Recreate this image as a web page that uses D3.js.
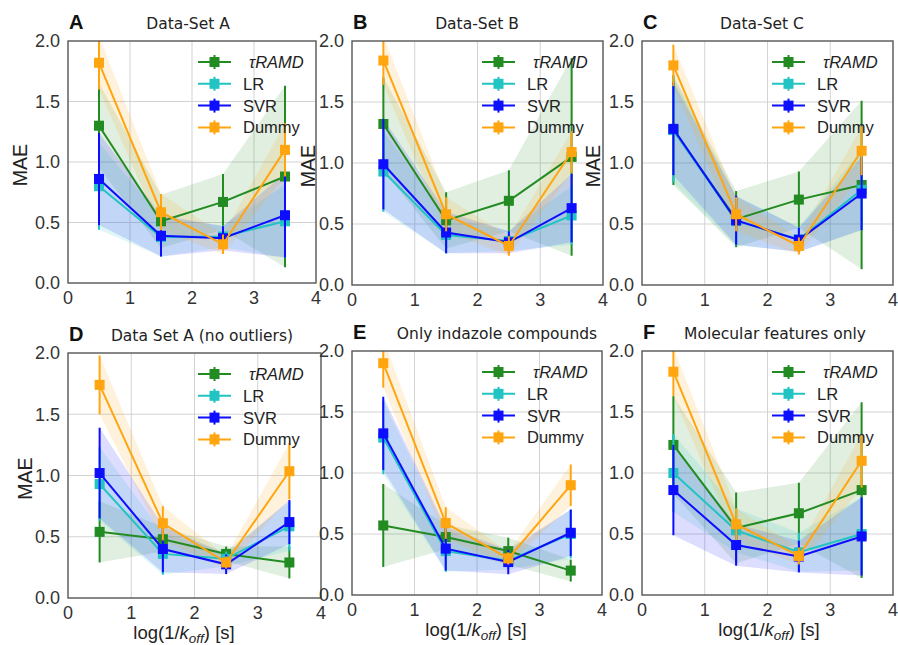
<!DOCTYPE html>
<html>
<head>
<meta charset="utf-8">
<script src="https://cdn.jsdelivr.net/npm/d3@7"></script>
<style>
  html, body { margin: 0; padding: 0; background: #fff; }
  svg { display: block; }
</style>
</head>
<body>
<svg id="fig" width="898" height="645"></svg>
<script>
// Bin centres on the log(1/koff) axis
const binCenters = [0.5, 1.5, 2.5, 3.5];
const seriesNames = ["τRAMD", "LR", "SVR", "Dummy"];
const seriesColors = ["#228b22", "#22c3c3", "#0d0dff", "#ffa50f"];
const xTicks = [0, 1, 2, 3, 4];
const yTicks = [0.0, 0.5, 1.0, 1.5, 2.0];

const panelLetters = ["A", "B", "C", "D", "E", "F"];
const panelTitles = ["Data-Set A", "Data-Set B", "Data-Set C",
  "Data Set A (no outliers)", "Only indazole compounds", "Molecular features only"];

// MAE per bin, rows: τRAMD, LR, SVR, Dummy
const maeA = [[1.30, 0.51, 0.67, 0.88], [0.80, 0.38, 0.385, 0.51], [0.86, 0.39, 0.37, 0.56], [1.82, 0.585, 0.32, 1.10]];
const errA = [[0.35, 0.22, 0.23, 0.75], [0.36, 0.16, 0.09, 0.30], [0.38, 0.17, 0.10, 0.35], [0.22, 0.15, 0.08, 0.22]];
const maeB = [[1.32, 0.53, 0.69, 1.05], [0.93, 0.41, 0.36, 0.57], [0.99, 0.43, 0.35, 0.63], [1.84, 0.58, 0.32, 1.09]];
const errB = [[0.38, 0.23, 0.25, 0.81], [0.33, 0.15, 0.08, 0.24], [0.37, 0.17, 0.09, 0.28], [0.20, 0.14, 0.08, 0.17]];
const maeC = [[1.27, 0.54, 0.70, 0.82], [1.27, 0.525, 0.375, 0.78], [1.28, 0.53, 0.37, 0.75], [1.80, 0.58, 0.32, 1.10]];
const errC = [[0.45, 0.23, 0.23, 0.69], [0.43, 0.20, 0.10, 0.33], [0.38, 0.20, 0.10, 0.30], [0.17, 0.14, 0.07, 0.20]];
const maeD = [[0.54, 0.48, 0.36, 0.29], [0.93, 0.36, 0.32, 0.585], [1.02, 0.40, 0.275, 0.62], [1.74, 0.61, 0.29, 1.035]];
const errD = [[0.25, 0.10, 0.06, 0.13], [0.30, 0.17, 0.06, 0.20], [0.37, 0.19, 0.08, 0.18], [0.24, 0.14, 0.05, 0.23]];
const maeE = [[0.57, 0.475, 0.36, 0.20], [1.29, 0.36, 0.28, 0.50], [1.325, 0.38, 0.27, 0.51], [1.90, 0.59, 0.30, 0.90]];
const errE = [[0.34, 0.10, 0.11, 0.09], [0.30, 0.17, 0.07, 0.20], [0.30, 0.18, 0.10, 0.19], [0.20, 0.13, 0.05, 0.17]];
const maeF = [[1.23, 0.55, 0.67, 0.86], [1.00, 0.53, 0.35, 0.50], [0.86, 0.41, 0.315, 0.48], [1.83, 0.58, 0.32, 1.10]];
const errF = [[0.40, 0.29, 0.25, 0.72], [0.32, 0.18, 0.16, 0.30], [0.37, 0.17, 0.13, 0.32], [0.20, 0.13, 0.07, 0.22]];

const panelMAE = [maeA, maeB, maeC, maeD, maeE, maeF];
const panelErr = [errA, errB, errC, errD, errE, errF];

// Layout of the six axes boxes
const boxes = [
  { x0: 68,  x1: 316, y0: 41,  y1: 283 },
  { x0: 352, x1: 603, y0: 41,  y1: 285 },
  { x0: 642, x1: 893, y0: 41,  y1: 285 },
  { x0: 68,  x1: 321, y0: 353, y1: 598 },
  { x0: 352, x1: 602, y0: 351, y1: 595 },
  { x0: 642, x1: 893, y0: 351, y1: 595 }
];
const titleX = [188, 477, 762, 202, 497, 775];
const showYLabel = [true, true, true, true, false, false];
const yLabelX = [20, 308, 593, 25];
const xLabelX = [null, null, null, 184, 476, 769];

const svg = d3.select("#fig");
const tickFont = "'Liberation Sans', Arial, sans-serif";
const titleFont = "'DejaVu Sans', sans-serif";

boxes.forEach((b, p) => {
  const x = d3.scaleLinear().domain([0, 4]).range([b.x0, b.x1]);
  const y = d3.scaleLinear().domain([0, 2]).range([b.y1, b.y0]);
  const g = svg.append("g");

  const clipId = "clip" + p;
  g.append("clipPath").attr("id", clipId)
    .append("rect").attr("x", b.x0).attr("y", b.y0)
    .attr("width", b.x1 - b.x0).attr("height", b.y1 - b.y0);

  // grid
  const grid = g.append("g").attr("stroke", "#d3d3d3").attr("stroke-width", 1);
  xTicks.slice(1, -1).forEach(t => grid.append("line")
    .attr("x1", x(t)).attr("x2", x(t)).attr("y1", b.y0).attr("y2", b.y1));
  yTicks.slice(1, -1).forEach(t => grid.append("line")
    .attr("x1", b.x0).attr("x2", b.x1).attr("y1", y(t)).attr("y2", y(t)));

  const plot = g.append("g").attr("clip-path", `url(#${clipId})`);
  const mae = panelMAE[p], err = panelErr[p];

  // shaded ± error bands
  mae.forEach((vals, s) => {
    const area = d3.area()
      .x((d, i) => x(binCenters[i]))
      .y0((d, i) => y(vals[i] - err[s][i]))
      .y1((d, i) => y(vals[i] + err[s][i]));
    plot.append("path").datum(vals).attr("d", area)
      .attr("fill", seriesColors[s]).attr("fill-opacity", 0.14).attr("stroke", "none");
  });

  // lines, error bars and square markers
  mae.forEach((vals, s) => {
    const c = seriesColors[s];
    const line = d3.line().x((d, i) => x(binCenters[i])).y(d => y(d));
    const sg = plot.append("g");
    sg.append("path").datum(vals).attr("d", line)
      .attr("fill", "none").attr("stroke", c).attr("stroke-width", 2);
    sg.selectAll("line.eb").data(vals).enter().append("line")
      .attr("x1", (d, i) => x(binCenters[i])).attr("x2", (d, i) => x(binCenters[i]))
      .attr("y1", (d, i) => y(d - err[s][i])).attr("y2", (d, i) => y(d + err[s][i]))
      .attr("stroke", c).attr("stroke-width", 2);
    sg.selectAll("rect").data(vals).enter().append("rect")
      .attr("x", (d, i) => x(binCenters[i]) - 5).attr("y", d => y(d) - 5)
      .attr("width", 10).attr("height", 10).attr("fill", c);
  });

  // frame
  g.append("rect").attr("x", b.x0).attr("y", b.y0)
    .attr("width", b.x1 - b.x0).attr("height", b.y1 - b.y0)
    .attr("fill", "none").attr("stroke", "#555").attr("stroke-width", 1.4);

  // tick labels
  g.selectAll("text.yt").data(yTicks).enter().append("text")
    .attr("x", b.x0 - 8).attr("y", d => y(d)).attr("dy", "0.36em")
    .attr("text-anchor", "end").attr("font-family", tickFont).attr("font-size", 18)
    .attr("fill", "#333").text(d => d.toFixed(1));
  g.selectAll("text.xt").data(xTicks).enter().append("text")
    .attr("x", d => x(d)).attr("y", b.y1 + 21)
    .attr("text-anchor", "middle").attr("font-family", tickFont).attr("font-size", 18)
    .attr("fill", "#333").text(d => d);

  // panel letter and title
  g.append("text").attr("x", b.x0 + 1).attr("y", b.y0 - 12)
    .attr("font-family", tickFont).attr("font-weight", "bold").attr("font-size", 20)
    .attr("fill", "#111").text(panelLetters[p]);
  g.append("text").attr("x", titleX[p]).attr("y", b.y0 - 12)
    .attr("text-anchor", "middle").attr("font-family", titleFont).attr("font-size", 15.5)
    .attr("fill", "#222").text(panelTitles[p]);

  // axis labels
  if (showYLabel[p]) {
    const cy = (b.y0 + b.y1) / 2 + 3;
    g.append("text").attr("transform", `translate(${yLabelX[p] + 7},${cy}) rotate(-90)`)
      .attr("text-anchor", "middle").attr("font-family", tickFont).attr("font-size", 19.5)
      .attr("fill", "#222").text("MAE");
  }
  if (xLabelX[p] !== null) {
    const t = g.append("text").attr("x", xLabelX[p]).attr("y", b.y1 + 41)
      .attr("text-anchor", "middle").attr("font-family", tickFont).attr("font-size", 18.5)
      .attr("fill", "#222");
    t.append("tspan").text("log(1/");
    t.append("tspan").attr("font-style", "italic").text("k");
    t.append("tspan").attr("font-style", "italic").attr("font-size", 13.5).attr("dy", 4).text("off");
    t.append("tspan").attr("dy", -4).text(") [s]");
  }

  // legend
  const lg = g.append("g");
  seriesNames.forEach((name, s) => {
    const ly = b.y0 + 21 + s * 21.8;
    const lx0 = b.x0 + 130, lx1 = b.x0 + 163, lc = (lx0 + lx1) / 2;
    const c = seriesColors[s];
    lg.append("line").attr("x1", lx0).attr("x2", lx1).attr("y1", ly).attr("y2", ly)
      .attr("stroke", c).attr("stroke-width", 2);
    lg.append("line").attr("x1", lc).attr("x2", lc).attr("y1", ly - 7).attr("y2", ly + 7)
      .attr("stroke", c).attr("stroke-width", 2);
    lg.append("rect").attr("x", lc - 5).attr("y", ly - 5).attr("width", 10).attr("height", 10)
      .attr("fill", c);
    lg.append("text").attr("x", b.x0 + (s === 0 ? 181 : 175)).attr("y", ly).attr("dy", "0.36em")
      .attr("font-family", tickFont).attr("font-size", 16.5)
      .attr("font-style", s === 0 ? "italic" : "normal")
      .attr("fill", "#222").text(name);
  });
});
</script>
</body>
</html>
